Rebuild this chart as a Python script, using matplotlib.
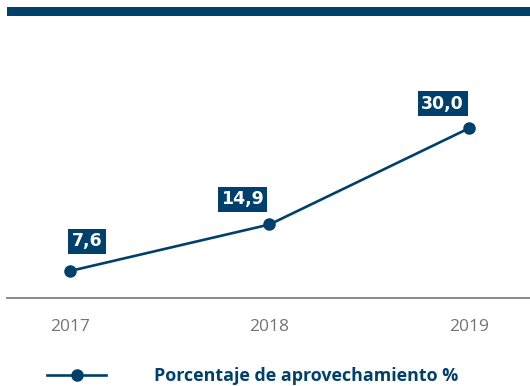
import matplotlib.pyplot as plt
from matplotlib.patches import Rectangle

years = ['2017', '2018', '2019']
aprovechamiento = [7.6, 14.9, 30.0]
serie = 'Porcentaje de aprovechamiento %'

navy = '#00406c'
gray = '#747474'

fig = plt.figure(figsize=(5.3, 3.86), dpi=100)
ax = fig.add_axes([7 / 530, 1 - 298 / 386, 1 - 7 / 530, (298 - 16) / 386])

x = list(range(len(years)))
line, = ax.plot(x, aprovechamiento, color=navy, lw=1.9, marker='o', ms=8,
                label=serie, clip_on=False)

# value boxes above each point
offsets = [(12.5, 21.5), (-19.5, 18), (-19, 17.5)]
for xi, v, off in zip(x, aprovechamiento, offsets):
    ax.annotate(f'{v:.1f}'.replace('.', ','), (xi, v), xytext=off,
                textcoords='offset points', ha='center', va='center',
                color='white', fontsize=12.5, fontweight='bold', family='DejaVu Sans',
                bbox=dict(boxstyle='square,pad=0.2', fc=navy, ec='none'))

ax.set_xlim(-0.315, 2.305)
ax.set_ylim(3.37, 47.6)
ax.set_xticks(x)
ax.set_xticklabels(years, color=gray, fontsize=12.5, family='Open Sans')
ax.tick_params(axis='x', length=0, pad=15)
ax.set_yticks([])
for s in ['top', 'left', 'right']:
    ax.spines[s].set_visible(False)
ax.spines['bottom'].set_color('#808080')
ax.spines['bottom'].set_linewidth(1.3)

# thick band across the top
fig.patches.append(Rectangle((7 / 530, 1 - 16 / 386), 1, 9 / 386,
                             transform=fig.transFigure, fc=navy, ec='none'))

leg = fig.legend(handles=[line], loc='center left', bbox_to_anchor=(47 / 530, 1 - 376 / 386),
                 frameon=False, borderpad=0, borderaxespad=0, handlelength=3.3,
                 handletextpad=2.65, numpoints=1,
                 prop=dict(family='Open Sans', weight='bold', size=12.9))
for t in leg.get_texts():
    t.set_color(navy)

fig.savefig('out.png', dpi=100)
